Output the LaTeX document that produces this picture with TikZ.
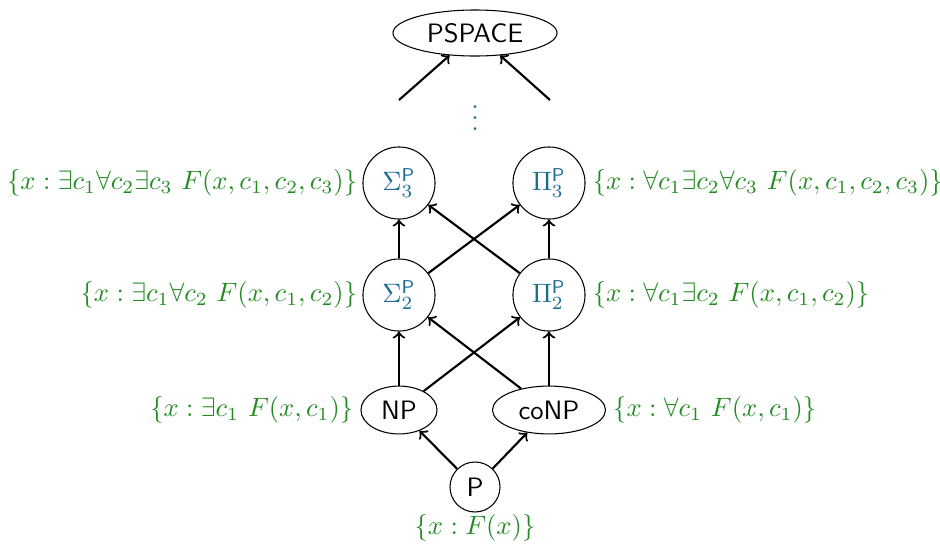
\documentclass[tikz,border=0pt]{standalone}
\usetikzlibrary{shapes.geometric}
\definecolor{lblgreen}{RGB}{34,139,34}
\definecolor{cblue}{RGB}{27,108,145}
\begin{document}
\begin{tikzpicture}[x=0.376pt,y=-0.376pt,
  cls/.style={draw, circle, minimum size=27.1pt, inner sep=0pt, text=cblue},
  ell/.style={draw, ellipse, inner sep=0pt, font=\sffamily},
  arr/.style={->, thick},
  lab/.style={text=lblgreen, inner sep=0pt}]
\useasboundingbox (0,0) rectangle (940,547);
\node[ell, minimum width=61.7pt, minimum height=17.3pt] (pspace) at (475,33) {PSPACE};
\node[text=cblue] (dots) at (475,110) {$\vdots$};
\coordinate (fl) at (399,100);
\coordinate (fr) at (550,100);
\node[cls] (s3) at (399,183) {$\Sigma_3^{\mathsf{P}}$};
\node[cls] (p3) at (549,183) {$\Pi_3^{\mathsf{P}}$};
\node[cls] (s2) at (399,295) {$\Sigma_2^{\mathsf{P}}$};
\node[cls] (p2) at (549,295) {$\Pi_2^{\mathsf{P}}$};
\node[ell, minimum width=28.6pt, minimum height=18pt] (np) at (399,410) {NP};
\node[ell, minimum width=42.5pt, minimum height=18pt] (conp) at (549,410) {coNP};
\node[draw, circle, minimum size=18.8pt, inner sep=0pt, font=\sffamily] (p) at (475,487) {P};

\node[lab, anchor=east] (ls3) at ([xshift=-1.8pt]s3.west) {$\{x : \exists c_1 \forall c_2 \exists c_3\ F(x, c_1, c_2, c_3)\}$};
\node[lab, anchor=west] (lp3) at ([xshift=2.5pt]p3.east) {$\{x : \forall c_1 \exists c_2 \forall c_3\ F(x, c_1, c_2, c_3)\}$};
\node[lab, anchor=east] (ls2) at ([xshift=-1.8pt]s2.west) {$\{x : \exists c_1 \forall c_2\ F(x, c_1, c_2)\}$};
\node[lab, anchor=west] (lp2) at ([xshift=2.5pt]p2.east) {$\{x : \forall c_1 \exists c_2\ F(x, c_1, c_2)\}$};
\node[lab, anchor=east] (lnp) at ([xshift=-2.5pt]np.west) {$\{x : \exists c_1\ F(x, c_1)\}$};
\node[lab, anchor=west] (lconp) at ([xshift=2.5pt]conp.east) {$\{x : \forall c_1\ F(x, c_1)\}$};
\node[lab] (lp) at (475,528) {$\{x : F(x)\}$};

\draw[arr] (fl) -- (pspace);
\draw[arr] (fr) -- (pspace);
\draw[arr] (p) -- (np);
\draw[arr] (p) -- (conp);
\draw[arr] (np) -- (s2);
\draw[arr] (np) -- (p2);
\draw[arr] (conp) -- (p2);
\draw[arr] (conp) -- (s2);
\draw[arr] (s2) -- (s3);
\draw[arr] (s2) -- (p3);
\draw[arr] (p2) -- (p3);
\draw[arr] (p2) -- (s3);
\end{tikzpicture}
\end{document}
